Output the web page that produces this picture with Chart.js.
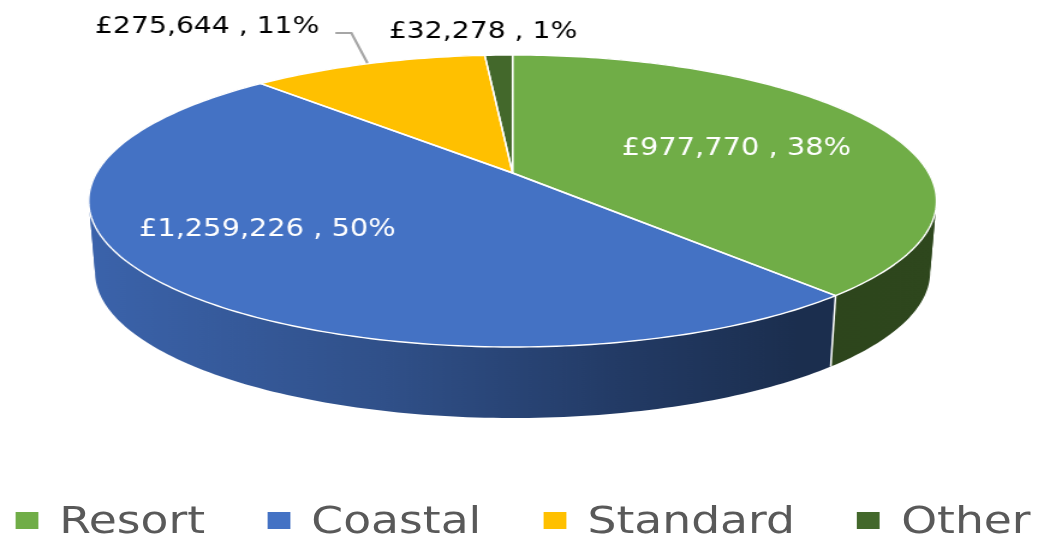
<!DOCTYPE html>
<html>
<head>
<meta charset="utf-8">
<title>Sales by category</title>
<script src="https://cdn.jsdelivr.net/npm/chart.js@4.4.1/dist/chart.umd.min.js"></script>
<style>
  html, body { margin: 0; padding: 0; background: #fff; overflow: hidden; }
  /* the whole picture is stretched sideways, like the original export */
  #wrap { position: absolute; left: 0; top: 0; width: 871.667px; height: 538px; transform: scaleX(1.2); transform-origin: 0 0; }
  #box { position: absolute; left: 0; top: 0; width: 100%; height: 538px; }
  #legend { position: absolute; left: 0; right: 0; top: 501px; height: 38px; display: flex; justify-content: center; align-items: center; gap: 52px;
            font-family: 'DejaVu Sans', sans-serif; font-size: 38px; line-height: 38px; color: #595959; white-space: nowrap; }
  #legend .item { display: flex; align-items: center; }
  #legend .sw { width: 19px; height: 17px; margin-right: 17.5px; }
</style>
</head>
<body>
<div id="wrap">
  <div id="box"><canvas id="pie"></canvas></div>
  <div id="legend"></div>
</div>
<script>
const categories = ['Resort', 'Coastal', 'Standard', 'Other'];
const values = [977770, 1259226, 275644, 32278];
const percents = [38, 50, 11, 1];
const colors = ['#70AD47', '#4472C4', '#FFC000', '#43682B'];

const SX = 1.2;
// perspective of the top face, in page pixels
const CX = 512, RX = 415.6, CY0 = 173, C1 = -107.45, PA = 0.1918;
const DEPTH = 71, SHRINK = 0.985;
const STEP = Math.PI / 180;
// angles where the wall silhouette is vertical
const A_RIGHT = Math.acos(-PA) - Math.PI / 2;
const A_LEFT = 1.5 * Math.PI - Math.acos(-PA);

// label placement (page pixels): centre x, baseline y
const labelPos = [[735.5, 155, '#fff', 24], [267, 236, '#fff', 24], [207, 33, '#000', 23.5], [482.5, 38, '#000', 23.5]];

function money(v) {
  return '£' + String(v).replace(/\B(?=(\d{3})+(?!\d))/g, ',');
}

function pt(a, bottom) {
  const X = Math.cos(a), Z = -Math.sin(a);
  const w = 1 + PA * Z;
  let x = CX + RX * X / w;
  let y = (CY0 + C1 * Z) / w;
  if (bottom) { x = CX + (x - CX) * SHRINK; y += DEPTH; }
  return [x / SX, y];
}

function shade(hex, f) {
  const n = parseInt(hex.slice(1), 16);
  const r = Math.round(((n >> 16) & 255) * f), g = Math.round(((n >> 8) & 255) * f), b = Math.round((n & 255) * f);
  return `rgb(${r},${g},${b})`;
}

function arcPoints(a0, a1, bottom) {
  const n = Math.max(2, Math.ceil((a1 - a0) / STEP));
  const out = [];
  for (let k = 0; k <= n; k++) out.push(pt(a0 + (a1 - a0) * k / n, bottom));
  return out;
}

const pie3d = {
  id: 'pie3d',
  beforeDatasetsDraw(chart) {
    const ctx = chart.ctx;
    const arcs = chart.getDatasetMeta(0).data;
    ctx.save();
    ctx.lineJoin = 'round';

    // side wall: bands cut at the silhouette, far bands first, lit from the left
    const bands = [];
    arcs.forEach((arc, i) => {
      const cuts = [arc.startAngle, ...[A_RIGHT, A_LEFT].filter(a => a > arc.startAngle && a < arc.endAngle), arc.endAngle];
      for (let k = 0; k < cuts.length - 1; k++) {
        bands.push({ i, a0: cuts[k], a1: cuts[k + 1], z: -Math.sin((cuts[k] + cuts[k + 1]) / 2) });
      }
    });
    bands.sort((p, q) => q.z - p.z);
    bands.forEach(b => {
      const top = arcPoints(b.a0, b.a1, false);
      const bot = arcPoints(b.a0, b.a1, true).reverse();
      const g = ctx.createLinearGradient(88 / SX, 0, 935 / SX, 0);
      g.addColorStop(0, shade(colors[b.i], 0.87));
      g.addColorStop(0.35, shade(colors[b.i], 0.7));
      g.addColorStop(0.62, shade(colors[b.i], 0.52));
      g.addColorStop(0.84, shade(colors[b.i], 0.4));
      g.addColorStop(1, shade(colors[b.i], 0.41));
      ctx.beginPath();
      top.concat(bot).forEach((v, k) => k ? ctx.lineTo(v[0], v[1]) : ctx.moveTo(v[0], v[1]));
      ctx.closePath();
      ctx.fillStyle = g;
      ctx.fill();
    });

    // white edges where slices meet on the visible wall
    ctx.strokeStyle = '#fff'; ctx.lineWidth = 1.5;
    arcs.forEach(arc => {
      if (-Math.sin(arc.startAngle) < -0.19) {
        const t = pt(arc.startAngle, false), b = pt(arc.startAngle, true);
        ctx.beginPath(); ctx.moveTo(t[0], t[1]); ctx.lineTo(b[0], b[1]); ctx.stroke();
      }
    });

    // top face
    const paths = arcs.map(arc => {
      const path = new Path2D();
      path.moveTo(CX / SX, CY0);
      arcPoints(arc.startAngle, arc.endAngle, false).forEach(v => path.lineTo(v[0], v[1]));
      path.closePath();
      return path;
    });
    paths.forEach((path, i) => { ctx.fillStyle = colors[i]; ctx.fill(path); });
    ctx.strokeStyle = '#fff'; ctx.lineWidth = 1.4;
    paths.forEach(path => ctx.stroke(path));
    ctx.restore();
    return false;
  },
  afterDraw(chart) {
    const ctx = chart.ctx;
    ctx.save();
    // leader line for the Standard label
    ctx.strokeStyle = '#A6A6A6'; ctx.lineWidth = 2.2;
    ctx.beginPath();
    ctx.moveTo(335 / SX, 33); ctx.lineTo(351 / SX, 33); ctx.lineTo(367 / SX, 63);
    ctx.stroke();
    ctx.textAlign = 'center';
    ctx.textBaseline = 'alphabetic';
    values.forEach((v, i) => {
      const [x, y, col, size] = labelPos[i];
      ctx.font = `${size}px "DejaVu Sans", sans-serif`;
      ctx.fillStyle = col;
      ctx.fillText(`${money(v)} , ${percents[i]}%`, x / SX, y);
    });
    ctx.restore();
  }
};

new Chart(document.getElementById('pie'), {
  type: 'pie',
  data: {
    labels: categories,
    datasets: [{ data: values, backgroundColor: colors, borderWidth: 0 }]
  },
  options: {
    responsive: true,
    maintainAspectRatio: false,
    animation: false,
    events: [],
    plugins: { legend: { display: false }, tooltip: { enabled: false } }
  },
  plugins: [pie3d]
});

const legend = document.getElementById('legend');
categories.forEach((name, i) => {
  const item = document.createElement('div');
  item.className = 'item';
  item.innerHTML = `<span class="sw" style="background:${colors[i]}"></span><span>${name}</span>`;
  legend.appendChild(item);
});
</script>
</body>
</html>
